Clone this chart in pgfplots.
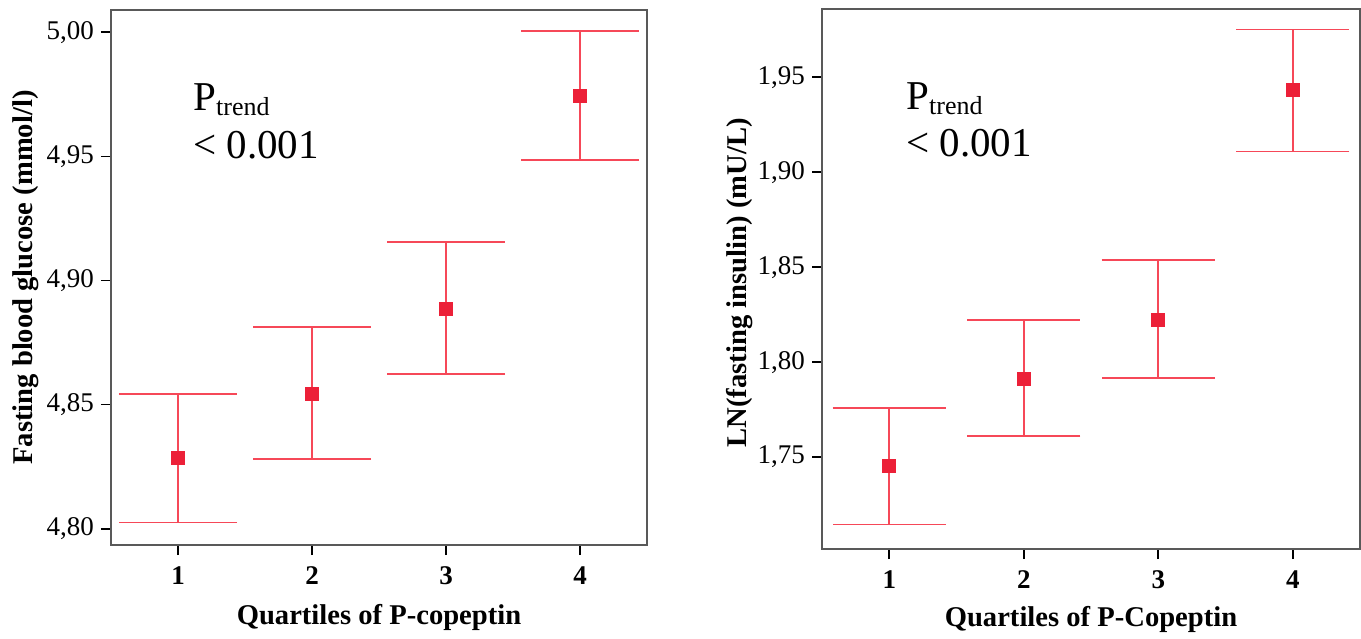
\documentclass[border=0pt]{standalone}
\usepackage{fontspec}
\setmainfont{Liberation Serif}
\usepackage{pgfplots}
\usepackage{pgfplotstable}
\pgfplotsset{compat=1.18}

\definecolor{errred}{RGB}{246,72,88}
\definecolor{markred}{RGB}{236,32,56}

% quartile, mean, +err, -err
\pgfplotstableread{
q  m       ep      em
1  4.8285  0.0257  0.0260
2  4.8542  0.0270  0.0262
3  4.8886  0.0270  0.0262
4  4.9745  0.0260  0.0260
}\glucose
\pgfplotstableread{
q  m       ep      em
1  1.7453  0.0305  0.0308
2  1.7913  0.0310  0.0303
3  1.8222  0.0317  0.0305
4  1.9435  0.0317  0.0325
}\insulin

\pgfplotsset{
  quartstyle/.style={
    scale only axis,
    xmin=0.5, xmax=4.5,
    xtick={1,2,3,4},
    tick align=outside,
    xtick pos=bottom, ytick pos=left,
    major tick length=5pt,
    tick style={black, line width=0.9pt},
    axis line style={black!65, line width=0.8pt},
    /pgf/number format/assume math mode=true,
    yticklabel style={font=\fontsize{13.5}{15}\selectfont,
      /pgf/number format/.cd, fixed, fixed zerofill, precision=2, use comma},
    xticklabel style={font=\fontsize{13.5}{15}\selectfont\bfseries, yshift=-2.5pt},
    label style={font=\fontsize{14.3}{16}\selectfont\bfseries},
    clip=false,
  },
  errplot/.style={
    only marks, mark=square*, mark size=3.2pt,
    mark options={fill=markred, draw=markred},
    error bars/.cd, y dir=both, y explicit,
    error bar style={errred, line width=0.8pt},
    error mark options={rotate=90, errred, line width=0.8pt, mark size=#1},
  },
}

\begin{document}
\begin{tikzpicture}
\path (0,0) rectangle (680.5pt,317.5pt);

\begin{axis}[quartstyle,
  at={(55.5pt,45pt)}, anchor=south west,
  width=268pt, height=267.5pt,
  ymin=4.7934, ymax=5.009,
  ytick={4.80,4.85,4.90,4.95,5.00},
  xlabel={Quartiles of P-copeptin},
  ylabel={Fasting blood glucose (mmol/l)},
  xlabel style={at={(axis description cs:0.5,0)}, anchor=center, yshift=-36pt},
  ylabel style={at={(axis description cs:-0.160,0.5)}, anchor=center},
]
\addplot[errplot=29.5pt] table[x=q, y=m, y error plus=ep, y error minus=em] {\glucose};
\node[anchor=base west, inner sep=0pt, font=\fontsize{20.5}{22}\selectfont]
  at (axis description cs:0.153,0.813) {P\raisebox{-2.5pt}{\fontsize{13}{13}\selectfont trend}};
\node[anchor=base west, inner sep=0pt, font=\fontsize{20.5}{22}\selectfont]
  at (axis description cs:0.153,0.723) {< 0.001};
\end{axis}

\begin{axis}[quartstyle,
  at={(411pt,43pt)}, anchor=south west,
  width=269pt, height=270pt,
  ymin=1.7016, ymax=1.986,
  ytick={1.75,1.80,1.85,1.90,1.95},
  xlabel={Quartiles of P-Copeptin},
  ylabel={LN(fasting insulin) (mU/L)},
  xlabel style={at={(axis description cs:0.5,0)}, anchor=center, yshift=-35pt},
  ylabel style={at={(axis description cs:-0.154,0.493)}, anchor=center},
]
\addplot[errplot=28.3pt] table[x=q, y=m, y error plus=ep, y error minus=em] {\insulin};
\node[anchor=base west, inner sep=0pt, font=\fontsize{20.5}{22}\selectfont]
  at (axis description cs:0.156,0.813) {P\raisebox{-2.5pt}{\fontsize{13}{13}\selectfont trend}};
\node[anchor=base west, inner sep=0pt, font=\fontsize{20.5}{22}\selectfont]
  at (axis description cs:0.156,0.726) {< 0.001};
\end{axis}
\end{tikzpicture}
\end{document}
